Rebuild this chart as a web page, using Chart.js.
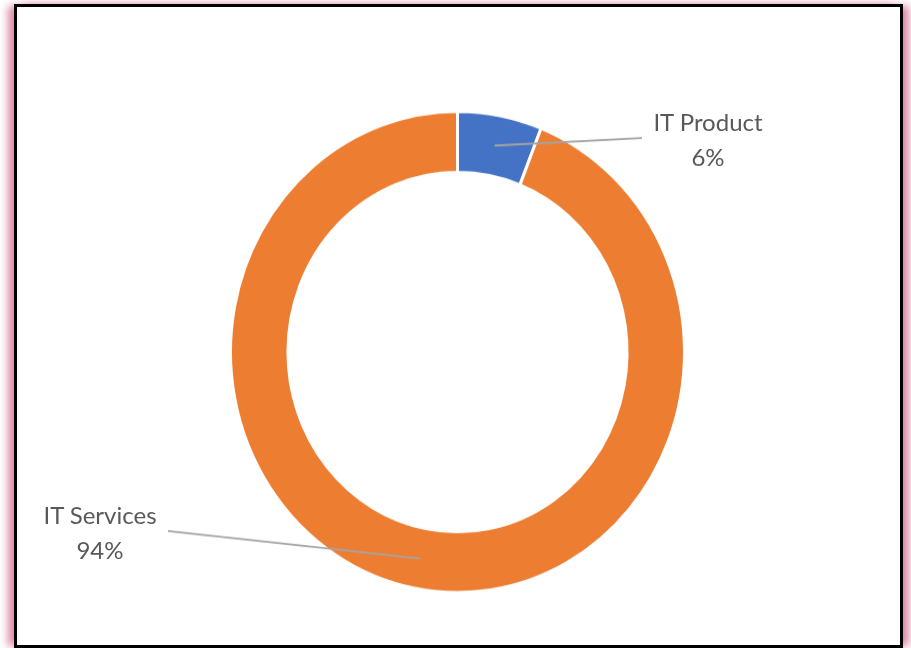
<!DOCTYPE html>
<html>
<head>
<meta charset="utf-8">
<script src="https://cdn.jsdelivr.net/npm/chart.js@4"></script>
<style>
  html, body { margin: 0; padding: 0; background: #fff; width: 911px; height: 648px; overflow: hidden; }
  #frame {
    position: absolute; left: 14px; top: 4px; width: 889px; height: 644px;
    box-sizing: border-box; border: 3px solid #000; background: #fff;
    box-shadow: -8px 0 8px -2px rgba(210, 95, 135, 0.75), 8px 0 8px -2px rgba(210, 95, 135, 0.75);
  }
  #c {
    position: absolute; left: 0; top: 0;
    transform-origin: 457.5px 352px; transform: scaleY(1.06);
  }
  .lbl {
    position: absolute; font-family: Lato, "Open Sans", sans-serif; font-size: 24px;
    color: #595959; text-align: center; line-height: 35px; white-space: nowrap;
    transform: translate(-50%, 0);
  }
</style>
</head>
<body>
<div id="frame"></div>
<canvas id="c" width="911" height="648"></canvas>
<div id="labels"></div>
<script>
const categories = ['IT Product', 'IT Services'];
const values = [6, 94];
const sliceColors = ['#4472C4', '#ED7D31'];

// label layout (page coordinates): text centre x, top y, leader line end point
const labelLayout = [
  { x: 708, y: 104, lineX: 642, lineY: 138 },
  { x: 100, y: 497, lineX: 168, lineY: 531 }
];

const SY = 1.06, CY = 352;
const total = values.reduce((a, b) => a + b, 0);

const labelsDiv = document.getElementById('labels');
categories.forEach((cat, i) => {
  const d = document.createElement('div');
  d.className = 'lbl';
  d.style.left = labelLayout[i].x + 'px';
  d.style.top = labelLayout[i].y + 'px';
  d.innerHTML = cat + '<br>' + Math.round(values[i] / total * 100) + '%';
  labelsDiv.appendChild(d);
});

const leaderPlugin = {
  id: 'leaders',
  afterDatasetsDraw(chart) {
    const ctx = chart.ctx;
    const meta = chart.getDatasetMeta(0);
    ctx.save();
    ctx.strokeStyle = '#A5A5A5';
    ctx.lineWidth = 1.8;
    meta.data.forEach((arc, i) => {
      const p = arc.tooltipPosition();
      const ex = labelLayout[i].lineX;
      const ey = CY + (labelLayout[i].lineY - CY) / SY;
      ctx.beginPath();
      ctx.moveTo(ex, ey);
      ctx.lineTo(p.x, p.y);
      ctx.stroke();
    });
    ctx.restore();
  }
};

new Chart(document.getElementById('c'), {
  type: 'doughnut',
  data: {
    labels: categories,
    datasets: [{
      data: values,
      backgroundColor: sliceColors,
      borderColor: '#ffffff',
      borderWidth: 3,
      hoverOffset: 0
    }]
  },
  options: {
    responsive: false,
    animation: false,
    cutout: '74.7%',
    layout: { padding: { left: 229, right: 225, top: 123.5, bottom: 67.5 } },
    plugins: { legend: { display: false }, tooltip: { enabled: false } }
  },
  plugins: [leaderPlugin]
});
</script>
</body>
</html>
